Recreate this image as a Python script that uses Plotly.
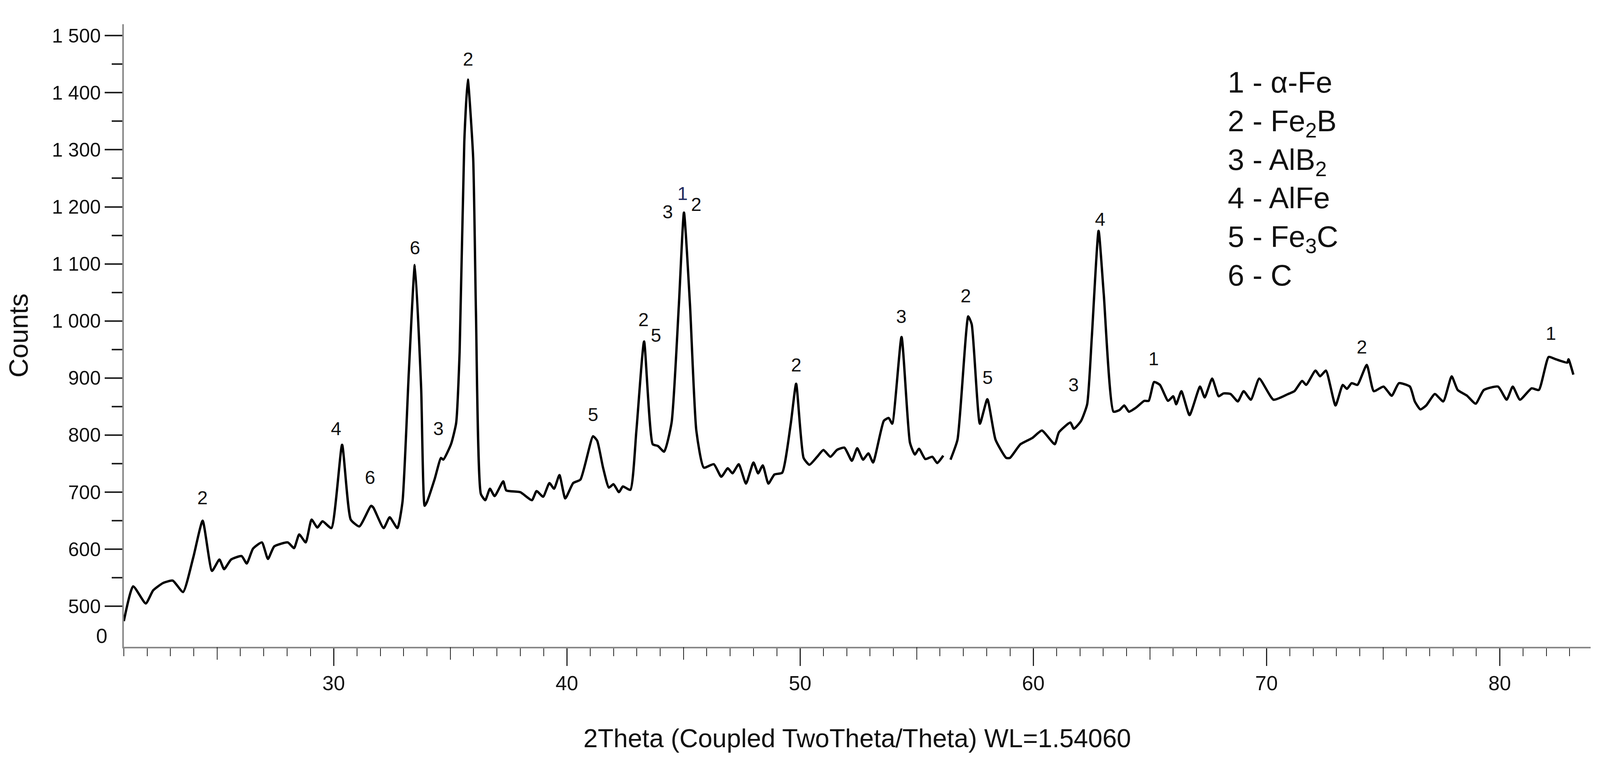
import plotly.graph_objects as go

# diffractogram: 2theta (deg) and counts
TWO_THETA = [
    21.0, 21.4, 21.94, 22.26, 22.69, 23.1, 23.54, 23.98, 24.38, 24.78, 25.1, 25.3, 25.6,
    26.05, 26.27, 26.54, 26.92, 27.18, 27.45, 28.03, 28.3, 28.52, 28.8, 29.05, 29.3,
    29.52, 29.9, 30.36, 30.73, 31.1, 31.6, 31.7, 32.14, 32.4, 32.73, 32.95, 33.22,
    33.48, 33.75, 33.9, 34.0, 34.33, 34.6, 34.7, 35.03, 35.25, 35.4, 35.6, 35.75,
    35.98, 36.1, 36.31, 36.5, 36.7, 36.9, 37.27, 37.4, 38.0, 38.5, 38.7, 38.98, 39.25,
    39.45, 39.68, 39.93, 40.27, 40.58, 41.12, 41.3, 41.55, 41.8, 42.0, 42.23, 42.4,
    42.72, 42.98, 43.31, 43.68, 43.9, 44.17, 44.49, 44.8, 45.02, 45.28, 45.55, 45.87,
    46.3, 46.62, 46.9, 47.1, 47.37, 47.68, 48.0, 48.2, 48.4, 48.64, 48.9, 49.23, 49.6,
    49.83, 50.15, 50.4, 50.73, 51.0, 51.3, 51.58, 51.9, 52.22, 52.45, 52.7, 52.93,
    53.13, 53.59, 53.8, 53.95, 54.35, 54.71, 54.92, 55.1, 55.37, 55.67, 55.88, 56.14,
    56.3, 56.45, 56.75, 57.21, 57.36, 57.71, 58.03, 58.38, 58.84, 59.0, 59.45, 59.96,
    60.37, 60.92, 61.1, 61.59, 61.74, 62.05, 62.31, 62.51, 62.8, 63.02, 63.44, 63.7,
    63.9, 64.1, 64.4, 64.76, 64.95, 65.18, 65.43, 65.78, 66.0, 66.13, 66.35, 66.7,
    67.15, 67.35, 67.67, 67.95, 68.15, 68.46, 68.77, 69.02, 69.33, 69.69, 70.3, 70.93,
    71.2, 71.53, 71.7, 72.1, 72.3, 72.55, 72.96, 73.27, 73.45, 73.65, 73.9, 74.3, 74.6,
    75.02, 75.37, 75.68, 76.15, 76.36, 76.6, 76.85, 77.22, 77.58, 77.94, 78.2, 78.6,
    78.97, 79.32, 79.93, 80.3, 80.56, 80.87, 81.37, 81.68, 82.1, 82.4, 82.9, 82.95,
    83.16,
]
COUNTS = [
    474, 535, 505, 528, 541, 545, 525, 586, 650, 562, 582, 565, 582,
    588, 575, 601, 612, 583, 605, 612, 602, 626, 612, 652, 638,
    649, 637, 783, 652, 640, 676, 673, 637, 656, 637, 683, 909,
    1098, 882, 676, 683, 723, 760, 757, 784, 821, 946, 1314, 1423,
    1286, 1015, 697, 686, 706, 693, 719, 703, 700, 686, 702, 692, 716,
    706, 730, 689, 716, 722, 798, 790, 743, 708, 714, 700, 710,
    704, 808, 964, 784, 781, 771, 822, 1027, 1190, 1027, 808, 743,
    749, 727, 742, 733, 749, 715, 752, 733, 747, 715, 731, 734, 820,
    890, 760, 748, 762, 774, 762, 774, 778, 755, 777, 757, 768,
    752, 825, 830, 820, 972, 787, 766, 776, 758, 762, 751, 764,
    None, 757, 792, 1008, 994, 820, 863, 792, 760, 760, 784, 795,
    808, 784, 805, 822, 811, 825, 854, 972, 1158, 1048, 841, 844,
    852, 841, 848, 860, 860, 893, 888, 860, 868, 854, 877, 835,
    885, 866, 899, 868, 873, 872, 859, 877, 862, 899, 862, 872,
    877, 895, 888, 913, 903, 913, 852, 888, 881, 891, 888, 923, 877,
    885, 869, 891, 885, 859, 845, 852, 872, 859, 903, 879, 869,
    855, 879, 885, 862, 885, 862, 882, 879, 937, 933, 927, 933,
    906,
]

# phase markers above peaks
PEAK_X = [24.38, 30.1, 31.56, 33.48, 34.5, 35.77, 41.12, 43.28, 43.82, 44.32, 44.96,
          45.55, 49.83, 54.35, 57.1, 58.05, 61.73, 62.87, 65.16, 74.1, 82.2]
PEAK_Y = [690, 811, 726, 1128, 811, 1459, 836, 1002, 975, 1191, 1223,
          1204, 923, 1008, 1044, 901, 888, 1178, 934, 954, 978]
PEAK_TEXT = ["2", "4", "6", "6", "3", "2", "5", "2", "5", "3", "1",
             "2", "2", "3", "2", "5", "3", "4", "1", "2", "1"]

LEGEND_LINES = ["1 - α-Fe", "2 - Fe<sub>2</sub>B", "3 - AlB<sub>2</sub>",
                "4 - AlFe", "5 - Fe<sub>3</sub>C", "6 - C"]

Y_TICKS = [500, 600, 700, 800, 900, 1000, 1100, 1200, 1300, 1400, 1500]
Y_TICK_TEXT = ["500", "600", "700", "800", "900", "1 000", "1 100", "1 200",
               "1 300", "1 400", "1 500"]
X_TICKS = [30, 40, 50, 60, 70, 80]

X_RANGE = [21, 83.9]
Y_RANGE = [429, 1520]

FONT = "Liberation Sans"
NARROW = "Liberation Sans Narrow, Liberation Sans"

fig = go.Figure()
fig.add_trace(go.Scatter(
    x=TWO_THETA, y=COUNTS, mode="lines",
    line=dict(color="black", width=6, shape="spline", smoothing=0.5),
    connectgaps=False, showlegend=False, hoverinfo="x+y",
))
# invisible helper trace for the 5-degree tick axis
fig.add_trace(go.Scatter(x=X_RANGE, y=[None, None], xaxis="x2", showlegend=False,
                         hoverinfo="skip"))

for x, y, t in zip(PEAK_X, PEAK_Y, PEAK_TEXT):
    color = "#1f2a5e" if (t == "1" and abs(x - 44.96) < 0.1) else "#111111"
    fig.add_annotation(x=x, y=y, text=t, showarrow=False,
                       font=dict(family=FONT, size=48, color=color))

fig.add_annotation(
    xref="paper", yref="paper", x=0.752, y=0.935, xanchor="left", yanchor="top",
    align="left", showarrow=False, text="<br>".join(LEGEND_LINES),
    font=dict(family=FONT, size=76, color="#111111"),
)
# broken-axis "0" label below 500
fig.add_annotation(xref="paper", yref="y", x=0, y=448, xanchor="right", xshift=-40,
                   text="0", showarrow=False,
                   font=dict(family=NARROW, size=52, color="#111111"))

fig.update_layout(
    margin=dict(l=309, r=16, t=54, b=292),
    paper_bgcolor="white", plot_bgcolor="white",
    xaxis=dict(
        range=X_RANGE, tickvals=X_TICKS, ticks="outside", ticklen=45, tickwidth=3,
        tickcolor="#222", showline=True, linecolor="#888", linewidth=4,
        showgrid=False, zeroline=False,
        tickfont=dict(family=NARROW, size=52, color="#111111"),
        minor=dict(dtick=1, tick0=21, ticks="outside", ticklen=20, tickwidth=2,
                   tickcolor="#222", showgrid=False),
        title=dict(text="2Theta (Coupled TwoTheta/Theta) WL=1.54060", standoff=90,
                   font=dict(family=NARROW, size=66, color="#111111")),
    ),
    xaxis2=dict(
        range=X_RANGE, overlaying="x", side="bottom", anchor="y",
        tickvals=[25, 35, 45, 55, 65, 75], showticklabels=False, ticks="outside",
        ticklen=32, tickwidth=2, tickcolor="#222", showgrid=False, zeroline=False,
        showline=False,
    ),
    yaxis=dict(
        range=Y_RANGE, tickvals=Y_TICKS, ticktext=Y_TICK_TEXT, ticks="outside",
        ticklen=45, tickwidth=4, tickcolor="#222", showline=True, linecolor="#888",
        linewidth=4, showgrid=False, zeroline=False,
        tickfont=dict(family=FONT, size=50, color="#111111"),
        minor=dict(tickvals=[550, 650, 750, 850, 950, 1050, 1150, 1250, 1350, 1450],
                   ticks="outside", ticklen=27, tickwidth=4, tickcolor="#222",
                   showgrid=False),
        title=dict(text="Counts", standoff=40,
                   font=dict(family=FONT, size=68, color="#111111")),
    ),
)

fig.write_html("out.html")
